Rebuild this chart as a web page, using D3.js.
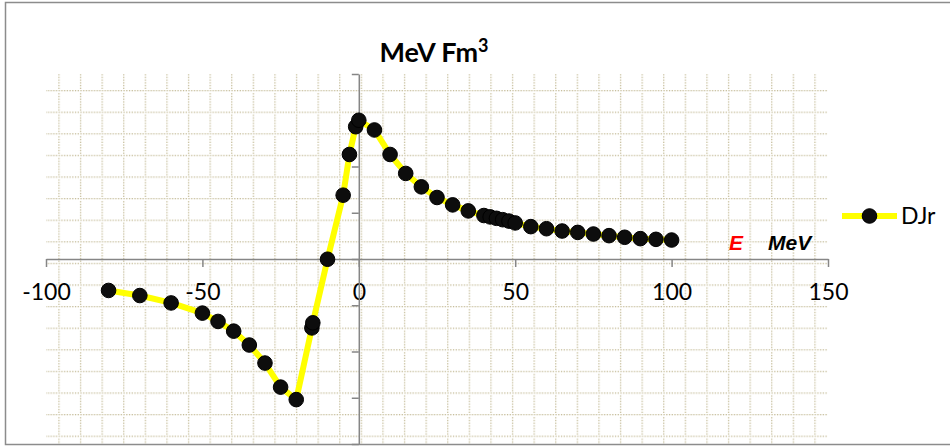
<!DOCTYPE html>
<html>
<head>
<meta charset="utf-8">
<script src="https://cdn.jsdelivr.net/npm/d3@7"></script>
<style>
  body { margin: 0; background: #fff; }
  text { font-family: Lato, "Open Sans", sans-serif; }
</style>
</head>
<body>
<div id="chart"></div>
<script>
// E (MeV) and DJr (MeV Fm^3)
const energy = [-80, -70, -60, -50, -45, -40, -35, -30, -25, -20, -15, -14.7, -10, -5, -3, -1, 0,
  5, 10, 15, 20, 25, 30, 35, 40, 42, 44, 46, 48, 50, 55, 60, 65, 70, 75, 80, 85, 90, 95, 100];
const djr = [-68, -79, -95, -117, -135, -156, -186, -225, -277, -304, -149, -138, -0.5, 138, 226, 286, 300,
  279, 226, 185, 156, 133, 117, 104, 94, 91, 88, 85, 82, 78, 70, 65.5, 60.5, 57.5, 54, 50.5, 47, 44, 42.5, 41];
const xTicks = [-100, -50, 0, 50, 100, 150];
const yTicks = [-400, -300, -200, -100, 0, 100, 200, 300, 400];
const seriesName = "DJr";

const points = energy.map((e, i) => ({ e, v: djr[i] }));

const width = 950, height = 447;
const plot = { left: 46, top: 74, right: 828, bottom: 444 };

const svg = d3.select('#chart').append('svg').attr('width', width).attr('height', height);

// dotted-grid fill of the plot area
const cell = 21.6, step = cell / 8, dot = 1.3, dotColor = '#c6be9c';
const pat = svg.append('defs').append('pattern')
  .attr('id', 'dotgrid').attr('patternUnits', 'userSpaceOnUse')
  .attr('width', cell).attr('height', cell)
  .attr('x', plot.left + 12.3).attr('y', plot.top + 16);
for (let i = 0; i < 8; i++) {
  pat.append('rect').attr('x', i * step + 0.4).attr('y', 0).attr('width', dot).attr('height', dot).attr('fill', dotColor);
  if (i > 0) pat.append('rect').attr('x', 0).attr('y', i * step + 0.4).attr('width', dot).attr('height', dot).attr('fill', dotColor);
}

svg.append('rect')
  .attr('x', plot.left).attr('y', plot.top)
  .attr('width', plot.right - plot.left).attr('height', plot.bottom - plot.top)
  .attr('fill', 'url(#dotgrid)');

// outer border
svg.append('rect').attr('x', 5.5).attr('y', 2.5).attr('width', 960).attr('height', 442)
  .attr('fill', 'none').attr('stroke', '#8c8c8c').attr('stroke-width', 1.5);

const xScale = d3.scaleLinear().domain([-100, 150]).range([plot.left, plot.right]);
const yScale = d3.scaleLinear().domain([-400, 400]).range([plot.bottom, plot.top]);

const xAxis = d3.axisBottom(xScale).tickValues(xTicks).tickSize(8).tickSizeOuter(0).tickPadding(17)
  .tickFormat(d => String(d));
const yAxis = d3.axisLeft(yScale).tickValues(yTicks).tickSize(7).tickSizeOuter(0).tickFormat('');

const gx = svg.append('g').attr('transform', `translate(0,${yScale(0)})`).call(xAxis);
const gy = svg.append('g').attr('transform', `translate(${xScale(0)},0)`).call(yAxis);
[gx, gy].forEach(g => {
  g.selectAll('path,line').attr('stroke', '#868686').attr('stroke-width', 1.5);
});
gx.selectAll('text').attr('font-size', 23).attr('fill', '#000')
  .style('font-family', 'Lato, sans-serif');

// series
const line = d3.line().x(d => xScale(d.e)).y(d => yScale(d.v));
svg.append('path').datum(points).attr('d', line)
  .attr('fill', 'none').attr('stroke', '#ffff00').attr('stroke-width', 6).attr('stroke-linejoin', 'round');

svg.selectAll('.dot').data(points).enter().append('circle')
  .attr('class', 'dot')
  .attr('cx', d => xScale(d.e)).attr('cy', d => yScale(d.v)).attr('r', 7.3)
  .attr('fill', '#0d0d0d').attr('stroke', '#000').attr('stroke-width', 1);

// title
const title = svg.append('text').attr('x', 434).attr('y', 62).attr('text-anchor', 'middle')
  .attr('font-size', 27).attr('font-weight', 'bold').attr('fill', '#000');
title.append('tspan').text('MeV Fm');
title.append('tspan').attr('dy', -10).attr('font-size', 18).text('3');

// axis caption
svg.append('text').attr('x', 729).attr('y', 250).attr('font-size', 21)
  .style('font-family', '"Liberation Sans", Arial, sans-serif')
  .attr('font-weight', 'bold').attr('font-style', 'italic').attr('fill', '#ff0000').text('E');
svg.append('text').attr('x', 768).attr('y', 250).attr('font-size', 21)
  .style('font-family', '"Liberation Sans", Arial, sans-serif')
  .attr('font-weight', 'bold').attr('font-style', 'italic').attr('fill', '#000').text('MeV');

// legend
const lg = svg.append('g');
lg.append('line').attr('x1', 842).attr('x2', 897).attr('y1', 216).attr('y2', 216)
  .attr('stroke', '#ffff00').attr('stroke-width', 6);
lg.append('circle').attr('cx', 869.5).attr('cy', 216).attr('r', 7.3)
  .attr('fill', '#0d0d0d').attr('stroke', '#000').attr('stroke-width', 1);
lg.append('text').attr('x', 901).attr('y', 224).attr('font-size', 23).attr('fill', '#000').text(seriesName);
</script>
</body>
</html>
